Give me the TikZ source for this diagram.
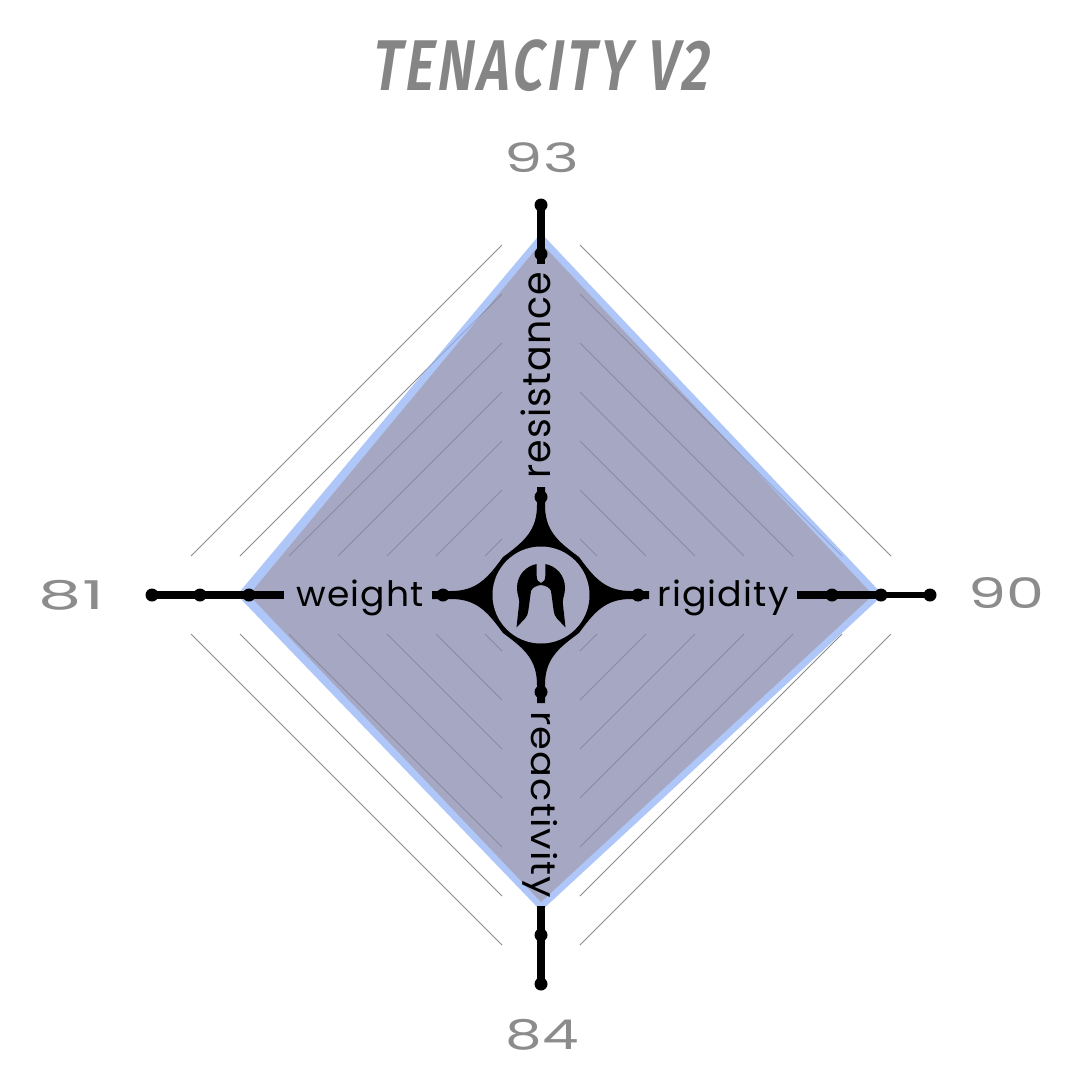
\documentclass[tikz,border=0pt]{standalone}
\usepackage{fontspec}
\usepackage{graphicx}
\setmainfont{Poppins}
\newfontfamily\numfont{Poppins}
\newfontfamily\titlefont{Fira Sans SemiBold}[FakeSlant=0.2,LetterSpace=6]
\definecolor{polyfill}{HTML}{A6A8C3}
\definecolor{polyblue}{HTML}{AFC6F8}
\definecolor{numgrey}{HTML}{8C8C8C}
\definecolor{titlegrey}{HTML}{858585}
\tikzset{
  guide/.style={draw=black,line width=0.9pt,opacity=0.33},
  guidein/.style={draw=black,line width=0.9pt,opacity=0.17},
  spoke/.style={line width=8pt,draw=black},
  spokethin/.style={line width=6.5pt,draw=black},
  tickdot/.style={circle,fill=black,inner sep=0pt,minimum size=13pt},
  nolabel/.style={inner sep=0pt,outer sep=0pt},
  numlabel/.style={nolabel,text=numgrey,font=\numfont},
  axislabel/.style={nolabel,text=black},
}
\newcommand{\guidelines}[1]{%
\foreach \k in {0,...,6}{
  \pgfmathsetmacro{\a}{245+49*\k}
  \pgfmathsetmacro{\b}{891-49*\k}
  \pgfmathsetmacro{\c}{1190-245-49*\k}
  \pgfmathsetmacro{\d}{1082-891+49*\k}
  \draw[#1] (580,\a) -- (\b,556);
  \draw[#1] (502,\a) -- (\d,556);
  \draw[#1] (580,\c) -- (\b,634);
  \draw[#1] (502,\c) -- (\d,634);
}}
\begin{document}
\begin{tikzpicture}[x=1pt,y=-1pt]
\useasboundingbox (0,0) rectangle (1080,1080);
\fill[white] (0,0) rectangle (1080,1080);
\guidelines{guide}
% polygon
\fill[polyblue] (541,233) -- (883,595) -- (541,911) -- (237,595) -- cycle;
\fill[polyfill] (541,243) -- (873,595) -- (541,902) -- (249,595) -- cycle;
\guidelines{guidein}
% hub
\coordinate (hub) at (541,595);
\fill[black] (537,487) -- (545,487) -- (545,505)
  .. controls (545,530) and (557,541) .. (579,557)
  .. controls (595,579) and (606,591) .. (631,591)
  -- (649,591) -- (649,599) -- (631,599)
  .. controls (606,599) and (595,611) .. (579,633)
  .. controls (557,649) and (545,660) .. (545,685)
  -- (545,703) -- (537,703) -- (537,685)
  .. controls (537,660) and (525,649) .. (503,633)
  .. controls (487,611) and (476,599) .. (451,599)
  -- (432,599) -- (432,591) -- (451,591)
  .. controls (476,591) and (487,579) .. (503,557)
  .. controls (525,541) and (537,530) .. (537,505) -- cycle;
\fill[polyfill] (hub) circle[radius=48.5];
\node[tickdot] (hubN) at (541,497) {};
\node[tickdot] (hubS) at (541,692) {};
\node[tickdot] (hubW) at (443,595) {};
\node[tickdot] (hubE) at (638,595) {};
% logo
\fill[black] (536.7,564) .. controls (526,566) and (517,575) .. (517,588)
  .. controls (517,594) and (519,597) .. (519.3,602)
  -- (516.5,627.5)
  -- (525,618.5) .. controls (527,616) and (528,614) .. (528.3,611)
  -- (531,591) .. controls (532,588) and (536,585.5) .. (541,585)
  .. controls (546,585.5) and (550,588) .. (551,591)
  -- (553.7,611) .. controls (554,614) and (555,616) .. (557,618.5)
  -- (565.5,627.5)
  -- (562.7,602) .. controls (563,597) and (565,594) .. (565,588)
  .. controls (565,575) and (556,566) .. (545.3,564)
  -- (545.3,576) .. controls (545.3,580) and (543.5,582.5) .. (541,583)
  .. controls (538.5,582.5) and (536.7,580) .. (536.7,576) -- cycle;
% outer spokes
\node[tickdot] (nA) at (541,205) {};
\node[tickdot] (nB) at (541,254) {};
\coordinate (nEnd) at (541,264);
\node[tickdot] (sA) at (541,984) {};
\node[tickdot] (sB) at (541,935) {};
\coordinate (sEnd) at (541,906);
\node[tickdot] (wA) at (152,595) {};
\node[tickdot] (wB) at (200,595) {};
\node[tickdot] (wC) at (249,595) {};
\coordinate (wEnd) at (284,595);
\node[tickdot] (eA) at (930,595) {};
\node[tickdot] (eB) at (881,595) {};
\node[tickdot] (eC) at (832,595) {};
\coordinate (eEnd) at (797,595);
\draw[spoke] (nA.center) -- (nEnd);
\draw[spoke] (sA.center) -- (sEnd);
\draw[spoke] (wA.center) -- (wEnd);
\draw[spokethin] (eA.center) -- (eB.center);
\draw[spoke] (eB.center) -- (eEnd);
% labels
\node[axislabel] (lw) at (360,598) {\resizebox*{127pt}{36pt}{\addfontfeatures{LetterSpace=3}weight}};
\node[axislabel] (lr) at (723,598) {\resizebox*{131pt}{36pt}{\addfontfeatures{LetterSpace=3}rigidity}};
\node[axislabel,rotate=90] (lres) at (536,375) {\resizebox*{207pt}{30pt}{\addfontfeatures{LetterSpace=3}resistance}};
\node[axislabel,rotate=-90] (lrea) at (540,805) {\resizebox*{187pt}{35pt}{\addfontfeatures{LetterSpace=3}reactivity}};
% numbers
\node[numlabel] (n93) at (542,157.5) {\resizebox*{74pt}{30pt}{93}};
\node[numlabel] (n90) at (1006,593) {\resizebox*{76pt}{31pt}{90}};
\node[numlabel] (n81) at (71.5,595.5) {\resizebox*{65pt}{30pt}{81}};
\node[numlabel] (n84) at (542,1035) {\resizebox*{73pt}{31pt}{84}};
% title
\node[nolabel,text=titlegrey] (title) at (539.5,66) {\resizebox*{337pt}{52pt}{\titlefont TENACITY V2}};
\end{tikzpicture}
\end{document}
